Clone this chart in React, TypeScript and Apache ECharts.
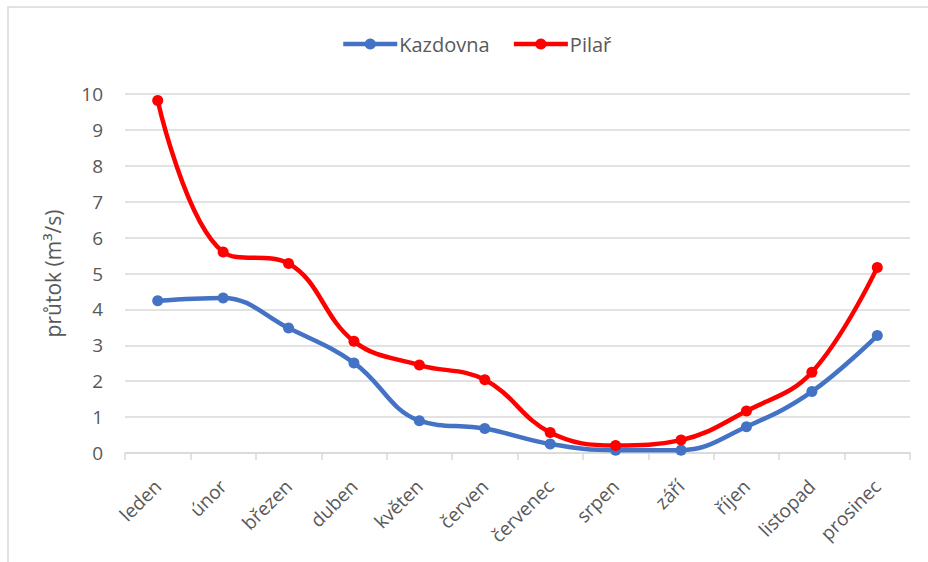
import React, { useEffect, useRef } from "react";
import * as echarts from "echarts";

const months = [
  "leden", "únor", "březen", "duben", "květen", "červen",
  "červenec", "srpen", "září", "říjen", "listopad", "prosinec",
];
const kazdovna = [4.24, 4.32, 3.48, 2.51, 0.9, 0.68, 0.25, 0.08, 0.08, 0.73, 1.71, 3.27];
const pilar = [9.82, 5.6, 5.28, 3.11, 2.45, 2.04, 0.57, 0.21, 0.36, 1.17, 2.25, 5.17];
const seriesNames = ["Kazdovna", "Pilař"];
const yAxisTitle = "průtok (m³/s)";

const FONT = "'Open Sans', 'Noto Sans', sans-serif";
const TEXT = "#595959";
const GRID = "#d9d9d9";

export default function App() {
  const ref = useRef<HTMLDivElement>(null);

  useEffect(() => {
    if (!ref.current) return;
    const chart = echarts.init(ref.current, undefined, { renderer: "svg" });
    chart.setOption({
      animation: false,
      backgroundColor: "#ffffff",
      textStyle: { fontFamily: FONT },
      graphic: [
        {
          type: "rect",
          shape: { x: 8, y: 7, width: 1000, height: 1000 },
          style: { fill: "none", stroke: GRID, lineWidth: 1.5 },
          silent: true,
        },
      ],
      legend: {
        top: 29,
        left: 336,
        itemWidth: 54,
        itemHeight: 14,
        itemGap: 22,
        lineStyle: { width: 4.5 },
        textStyle: { fontFamily: FONT, fontSize: 20, color: TEXT, padding: [0, 0, 0, -3] },
        data: seriesNames,
      },
      grid: { left: 125, right: 18, top: 94, bottom: 109 },
      xAxis: {
        type: "category",
        data: months,
        boundaryGap: true,
        axisLine: { lineStyle: { color: GRID, width: 1.5 } },
        axisTick: { show: true, length: 7, lineStyle: { color: GRID, width: 1.5 } },
        axisLabel: {
          interval: 0,
          rotate: 45,
          margin: 30,
          fontFamily: FONT,
          fontSize: 19,
          color: TEXT,
        },
      },
      yAxis: {
        type: "value",
        min: 0,
        max: 10,
        interval: 1,
        name: yAxisTitle,
        nameLocation: "middle",
        nameGap: 62,
        nameTextStyle: { fontFamily: FONT, fontSize: 21, color: TEXT },
        axisLine: { show: false },
        axisTick: { show: false },
        axisLabel: { margin: 22, fontFamily: FONT, fontSize: 19, color: TEXT },
        splitLine: { lineStyle: { color: GRID, width: 1.5 } },
      },
      series: [
        {
          name: seriesNames[0],
          type: "line",
          data: kazdovna,
          smooth: 0.4,
          symbol: "circle",
          symbolSize: 11,
          color: "#4472C4",
          lineStyle: { width: 4.5, color: "#4472C4" },
          itemStyle: { color: "#4472C4" },
          z: 2,
        },
        {
          name: seriesNames[1],
          type: "line",
          data: pilar,
          smooth: 0.4,
          symbol: "circle",
          symbolSize: 11,
          color: "#FF0000",
          lineStyle: { width: 4.5, color: "#FF0000" },
          itemStyle: { color: "#FF0000" },
          z: 3,
        },
      ],
    });
    return () => chart.dispose();
  }, []);

  return (
    <div
      ref={ref}
      style={{ position: "absolute", left: 0, top: 0, width: 928, height: 562 }}
    />
  );
}
